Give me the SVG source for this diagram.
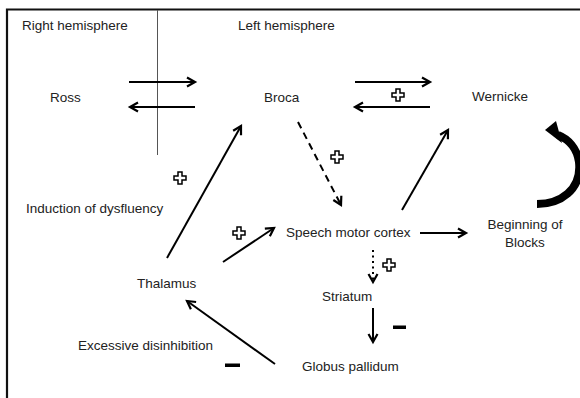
<svg xmlns="http://www.w3.org/2000/svg" width="580" height="398" viewBox="0 0 580 398">
<defs>
<style>
text{font-family:"Liberation Sans",Arial,sans-serif;font-size:13.5px;fill:#222}
.ln{stroke:#000;stroke-width:2;fill:none;marker-end:url(#ah)}
.plus{fill:#fff;stroke:#000;stroke-width:1.5}
.minus{fill:#000}
</style>
<marker id="ah" markerUnits="userSpaceOnUse" markerWidth="12" markerHeight="12" refX="9" refY="5" orient="auto" overflow="visible">
<path d="M1,0.5 L9,5 L1,9.5" fill="none" stroke="#000" stroke-width="2.2" stroke-linejoin="miter"/>
</marker>
<path id="pl" d="M-2,-6H2V-2H6V2H2V6H-2V2H-6V-2H-2Z"/>
</defs>
<rect width="580" height="398" fill="#fff"/>
<g id="frame">
<path d="M7,398 V9.5 H580" fill="none" stroke="#111" stroke-width="2.2"/>
<line x1="157.5" y1="10" x2="157.5" y2="155" stroke="#555" stroke-width="1"/>
</g>
<g id="right-hemisphere"><text x="22" y="30">Right hemisphere</text></g>
<g id="left-hemisphere"><text x="238" y="30">Left hemisphere</text></g>
<g id="ross"><text x="50" y="102">Ross</text></g>
<g id="broca"><text x="264" y="102">Broca</text></g>
<g id="wernicke"><text x="472" y="101">Wernicke</text></g>
<g id="induction"><text x="26" y="213">Induction of dysfluency</text></g>
<g id="speech-motor-cortex"><text x="286" y="237">Speech motor cortex</text></g>
<g id="beginning-of-blocks"><text x="525" y="229" text-anchor="middle">Beginning of</text><text x="525" y="247" text-anchor="middle">Blocks</text></g>
<g id="thalamus"><text x="137" y="288">Thalamus</text></g>
<g id="striatum"><text x="322" y="301">Striatum</text></g>
<g id="excessive"><text x="78" y="350">Excessive disinhibition</text></g>
<g id="globus-pallidum"><text x="302" y="371">Globus pallidum</text></g>
<g id="connectors">
<line class="ln" x1="129" y1="82" x2="195" y2="82"/>
<line class="ln" x1="195" y1="107" x2="130" y2="107"/>
<line class="ln" x1="355" y1="82" x2="430" y2="82"/>
<line class="ln" x1="430" y1="107" x2="355" y2="107"/>
<line class="ln" x1="298" y1="122" x2="341" y2="205" stroke-width="2.6" stroke-dasharray="7,5"/>
<line class="ln" x1="402" y1="210" x2="448" y2="130"/>
<line class="ln" x1="420" y1="233" x2="466" y2="233"/>
<line class="ln" x1="167" y1="258" x2="241" y2="126"/>
<line class="ln" x1="223" y1="262" x2="274" y2="228"/>
<line class="ln" x1="275" y1="364" x2="187" y2="301"/>
<line class="ln" x1="373" y1="250" x2="373" y2="282" stroke-dasharray="2,3.5"/>
<line class="ln" x1="373" y1="308" x2="373" y2="342" stroke-width="2.5"/>
<path d="M537,204 C560,204 582,190 579,162 C577,148 568,139 558,135" fill="none" stroke="#000" stroke-width="8"/>
<polygon points="545,130 556,121 562,143" fill="#000"/>
</g>
<g id="signs">
<use href="#pl" class="plus" x="398" y="95"/>
<use href="#pl" class="plus" x="337" y="157"/>
<use href="#pl" class="plus" x="180" y="178"/>
<use href="#pl" class="plus" x="239" y="233"/>
<use href="#pl" class="plus" x="389" y="265"/>
<rect class="minus" x="225" y="363.5" width="15" height="3.5"/>
<rect class="minus" x="393" y="325.5" width="13" height="3.5"/>
</g>
</svg>
